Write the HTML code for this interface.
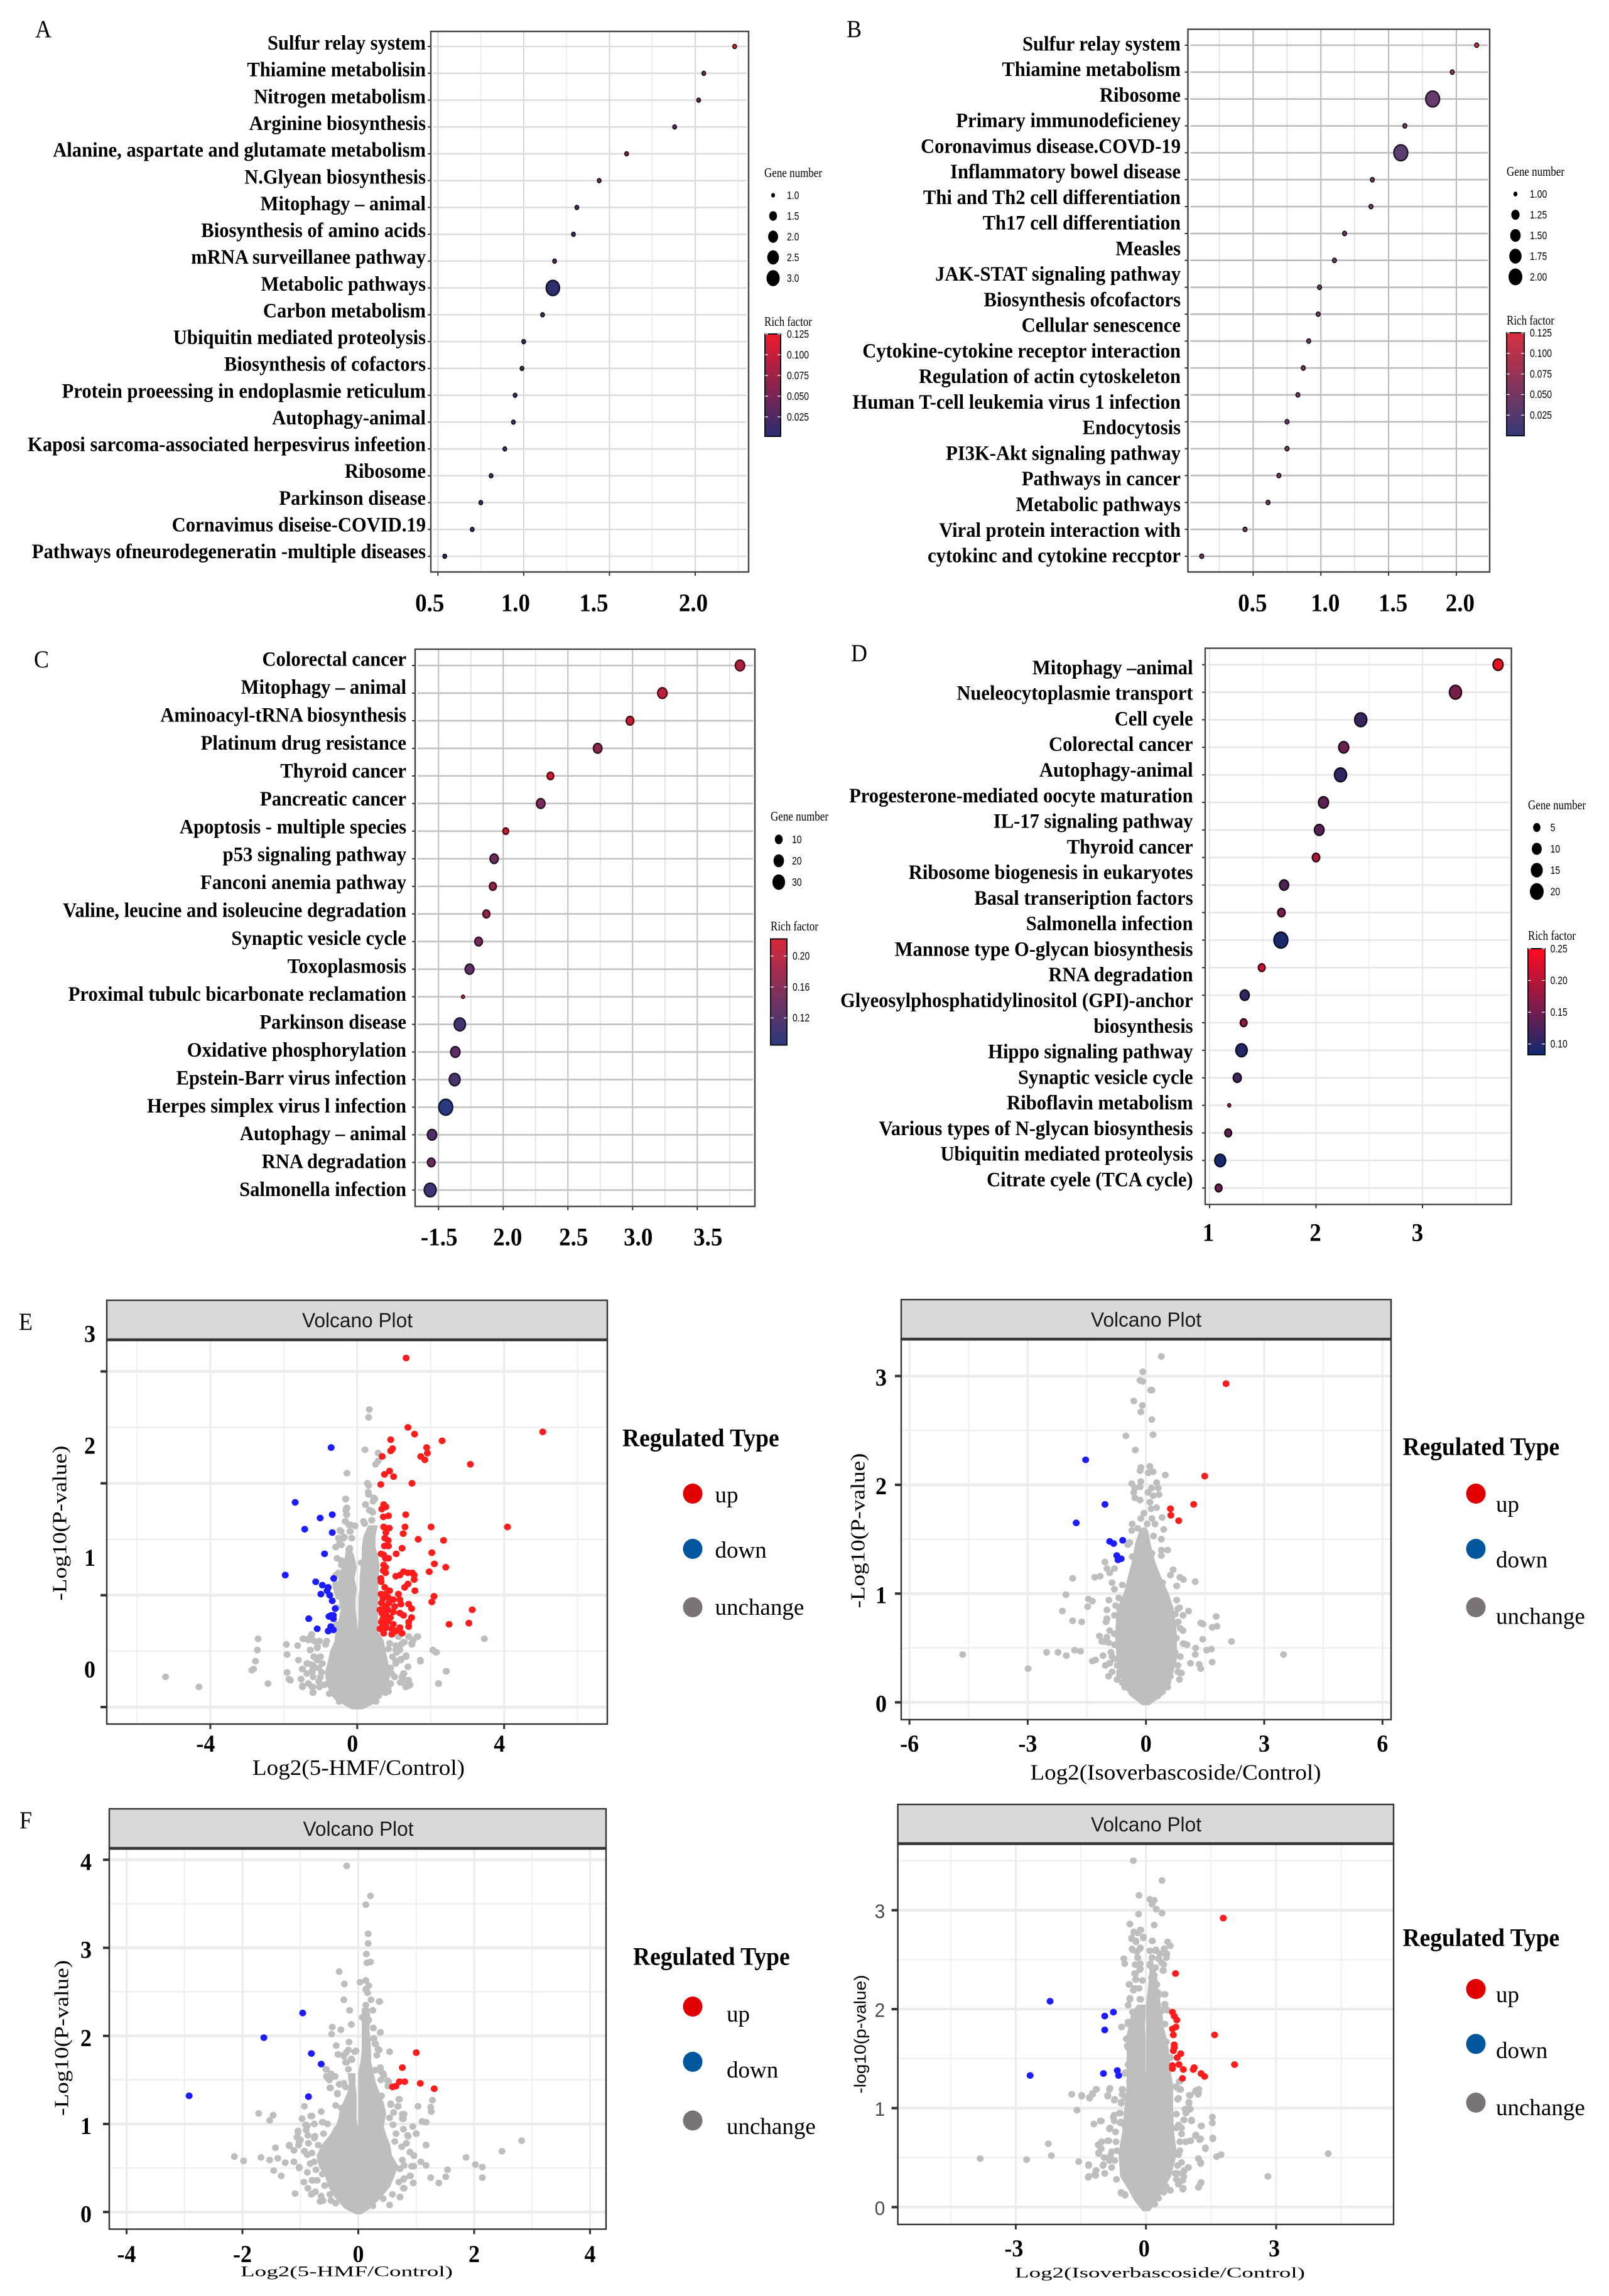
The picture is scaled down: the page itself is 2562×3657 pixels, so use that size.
<!DOCTYPE html>
<html lang="en">
<head>
<meta charset="utf-8">
<title>Enrichment dot plots and volcano plots</title>
<style>
html,body{margin:0;padding:0;background:#fff;}
svg{display:block;}
</style>
</head>
<body>
<svg id="figure" xmlns="http://www.w3.org/2000/svg" width="2562" height="3657" viewBox="0 0 2562 3657">
<defs>
<linearGradient id="grad-a" x1="0" y1="0" x2="0" y2="1"><stop offset="0" stop-color="#ee1a2c"/><stop offset="1" stop-color="#2a2c70"/></linearGradient>
<linearGradient id="grad-b" x1="0" y1="0" x2="0" y2="1"><stop offset="0" stop-color="#d8303f"/><stop offset="1" stop-color="#343a78"/></linearGradient>
<linearGradient id="grad-c" x1="0" y1="0" x2="0" y2="1"><stop offset="0" stop-color="#d8283a"/><stop offset="1" stop-color="#2a3a7c"/></linearGradient>
<linearGradient id="grad-d" x1="0" y1="0" x2="0" y2="1"><stop offset="0" stop-color="#ff0a20"/><stop offset="1" stop-color="#102a6e"/></linearGradient>
</defs>
<rect x="0" y="0" width="2562" height="3657" fill="#ffffff"/>
<g id="panel-a"></g>
<g id="panel-b"></g>
<g id="panel-c"></g>
<g id="panel-d"></g>
<g id="panel-e1"></g>
<g id="panel-e2"></g>
<g id="panel-f1"></g>
<g id="panel-f2"></g>
</svg>
<script>
/* ---------- Panel A data ---------- */
const pathwaysA = ["Sulfur relay system","Thiamine metabolisin","Nitrogen metabolism","Arginine biosynthesis","Alanine, aspartate and glutamate metabolism","N.Glyean biosynthesis","Mitophagy – animal","Biosynthesis of amino acids","mRNA surveillanee pathway","Metabolic pathways","Carbon metabolism","Ubiquitin mediated proteolysis","Biosynthesis of cofactors","Protein proeessing in endoplasmie reticulum","Autophagy-animal","Kaposi sarcoma-associated herpesvirus infeetion","Ribosome","Parkinson disease","Cornavimus diseise-COVID.19","Pathways ofneurodegeneratin -multiple diseases"];
const enrichmentA = [2.23,2.05,2.02,1.88,1.60,1.44,1.31,1.29,1.18,1.17,1.11,1.00,0.99,0.95,0.94,0.89,0.81,0.75,0.70,0.54];
const genesA = [1,1,1,1,1,1,1,1,1,3,1,1,1,1,1,1,1,1,1,1];
const richA = [0.125,0.06,0.05,0.04,0.06,0.05,0.03,0.02,0.04,0.01,0.03,0.02,0.02,0.02,0.02,0.02,0.02,0.02,0.02,0.02];
const xTicksA = [0.5,1.0,1.5,2.0];
const xTickLabelsA = ["0.5","1.0","1.5","2.0"];
const legendGenesA = [1.0,1.5,2.0,2.5,3.0];
const legendGeneLabelsA = ["1.0","1.5","2.0","2.5","3.0"];
const legendRichA = [0.125,0.100,0.075,0.050,0.025];
const legendRichLabelsA = ["0.125","0.100","0.075","0.050","0.025"];

/* ---------- Panel B data ---------- */
const pathwaysB = ["Sulfur relay system","Thiamine metabolism","Ribosome","Primary immunodeficieney","Coronavimus disease.COVD-19","Inflammatory bowel disease","Thi and Th2 cell differentiation","Th17 cell differentiation","Measles","JAK-STAT signaling pathway","Biosynthesis ofcofactors","Cellular senescence","Cytokine-cytokine receptor interaction","Regulation of actin cytoskeleton","Human T-cell leukemia virus 1 infection","Endocytosis","PI3K-Akt signaling pathway","Pathways in cancer","Metabolic pathways","Viral protein interaction with","cytokinc and cytokine reccptor"];
const enrichmentB = [2.15,1.97,1.825,1.62,1.59,1.38,1.37,1.175,1.10,0.99,0.98,0.91,0.87,0.83,0.75,0.75,0.69,0.61,0.44,0.12];
const genesB = [1,1,2,1,2,1,1,1,1,1,1,1,1,1,1,1,1,1,1,1];
const richB = [0.125,0.08,0.03,0.05,0.02,0.04,0.04,0.04,0.04,0.04,0.04,0.04,0.04,0.04,0.04,0.04,0.04,0.04,0.04,0.04];
const xTicksB = [0.5,1.0,1.5,2.0];
const xTickLabelsB = ["0.5","1.0","1.5","2.0"];
const legendGenesB = [1.00,1.25,1.50,1.75,2.00];
const legendGeneLabelsB = ["1.00","1.25","1.50","1.75","2.00"];
const legendRichB = [0.125,0.100,0.075,0.050,0.025];
const legendRichLabelsB = ["0.125","0.100","0.075","0.050","0.025"];

/* ---------- Panel C data ---------- */
const pathwaysC = ["Colorectal cancer","Mitophagy – animal","Aminoacyl-tRNA biosynthesis","Platinum drug resistance","Thyroid cancer","Pancreatic cancer","Apoptosis - multiple species","p53 signaling pathway","Fanconi anemia pathway","Valine, leucine and isoleucine degradation","Synaptic vesicle cycle","Toxoplasmosis","Proximal tubulc bicarbonate reclamation","Parkinson disease","Oxidative phosphorylation","Epstein-Barr virus infection","Herpes simplex virus l infection","Autophagy – animal","RNA degradation","Salmonella infection"];
const enrichmentC = [3.83,3.23,2.98,2.73,2.365,2.29,2.02,1.93,1.92,1.87,1.81,1.74,1.69,1.665,1.63,1.625,1.556,1.45,1.444,1.436];
const genesC = [15,15,9,12,6,12,4,11,7,7,9,13,1,23,15,21,36,15,9,26];
const richC = [0.19,0.20,0.21,0.16,0.22,0.15,0.21,0.14,0.17,0.17,0.15,0.13,0.22,0.11,0.13,0.115,0.09,0.12,0.14,0.105];
const xTicksC = [1.5,2.0,2.5,3.0,3.5];
const xTickLabelsC = ["-1.5","2.0","2.5","3.0","3.5"];
const legendGenesC = [10,20,30];
const legendGeneLabelsC = ["10","20","30"];
const legendRichC = [0.20,0.16,0.12];
const legendRichLabelsC = ["0.20","0.16","0.12"];

/* ---------- Panel D data ---------- */
const pathwaysD = ["Mitophagy –animal","Nueleocytoplasmie transport","Cell cyele","Colorectal cancer","Autophagy-animal","Progesterone-mediated oocyte maturation","IL-17 signaling pathway","Thyroid cancer","Ribosome biogenesis in eukaryotes","Basal transeription factors","Salmonella infection","Mannose type O-glycan biosynthesis","RNA degradation","Glyeosylphosphatidylinositol (GPI)-anchor","biosynthesis","Hippo signaling pathway","Synaptic vesicle cycle","Riboflavin metabolism","Various types of N-glycan biosynthesis","Ubiquitin mediated proteolysis","Citrate cyele (TCA cycle)"];
const enrichmentD = [3.71,3.31,2.42,2.26,2.23,2.07,2.03,2.00,1.70,1.675,1.67,1.49,1.33,1.32,1.30,1.26,1.185,1.175,1.10,1.085];
const genesD = [10,15,15,10,15,10,9,5,8,5,20,4,8,4,13,6,1,4,12,4];
const richD = [0.24,0.16,0.115,0.15,0.105,0.14,0.135,0.20,0.13,0.16,0.09,0.22,0.11,0.18,0.095,0.12,0.20,0.14,0.09,0.15];
const xTicksD = [1,2,3];
const xTickLabelsD = ["1","2","3"];
const legendGenesD = [5,10,15,20];
const legendGeneLabelsD = ["5","10","15","20"];
const legendRichD = [0.25,0.20,0.15,0.10];
const legendRichLabelsD = ["0.25","0.20","0.15","0.10"];

/* ---------- Volcano E left ---------- */
const upE1 = [[1.33,3.12],[1.38,2.50],[1.56,2.44],[0.91,2.39],[2.31,2.38],[5.05,2.46],[0.96,2.31],[0.91,2.29],[1.89,2.32],[1.91,2.27],[0.68,2.24],[1.73,2.24],[1.84,2.21],[3.08,2.17],[0.88,2.11],[0.74,2.08],[0.99,2.06],[1.49,2.00],[0.64,1.99],[0.72,1.81],[0.78,1.79],[0.67,1.77],[0.85,1.71],[0.71,1.70],[1.32,1.72],[0.72,1.61],[0.87,1.60],[1.30,1.61],[2.01,1.61],[4.09,1.61],[0.78,1.56],[1.25,1.55],[0.75,1.51],[0.84,1.49],[1.66,1.50],[2.35,1.49],[0.74,1.44],[0.85,1.44],[1.22,1.42],[1.06,1.37],[2.03,1.38],[0.65,1.37],[0.72,1.36],[0.77,1.33],[0.85,1.33],[2.10,1.28],[0.72,1.27],[0.77,1.25],[2.41,1.25],[0.71,1.22],[0.77,1.20],[1.26,1.21],[1.38,1.20],[1.50,1.20],[1.96,1.21],[1.05,1.17],[1.16,1.18],[1.55,1.18],[0.64,1.15],[0.65,1.12],[1.55,1.14],[1.38,1.10],[1.29,1.07],[0.75,1.07],[1.57,1.04],[0.88,1.04],[0.65,1.01],[0.77,1.01],[1.12,1.01],[0.84,0.98],[1.16,0.96],[2.09,0.99],[0.70,0.97],[0.98,0.96],[2.03,0.94],[1.40,0.92],[1.19,0.92],[0.77,0.90],[1.48,0.88],[3.13,0.87],[0.62,0.87],[0.84,0.87],[0.98,0.85],[1.16,0.84],[1.26,0.82],[1.48,0.80],[0.67,0.84],[0.79,0.82],[0.70,0.79],[0.84,0.77],[2.50,0.74],[3.04,0.75],[1.40,0.76],[0.98,0.74],[0.70,0.73],[0.79,0.71],[1.16,0.71],[1.40,0.72],[0.62,0.70],[0.94,0.70],[1.05,0.68],[1.22,0.66],[0.72,0.66],[0.94,0.65],[0.66,0.93],[0.72,0.85],[0.76,0.77],[0.86,0.93],[0.90,0.80],[1.02,0.90],[0.66,0.76],[0.78,0.74]];
const downE1 = [[-0.71,2.32],[-1.69,1.83],[-0.68,1.72],[-1.01,1.69],[-1.43,1.59],[-0.68,1.56],[-0.89,1.37],[-1.96,1.18],[-0.64,1.15],[-1.13,1.12],[-0.95,1.09],[-0.79,1.07],[-0.82,1.04],[-0.99,1.01],[-0.75,1.00],[-0.68,0.95],[-0.60,0.88],[-0.71,0.82],[-0.65,0.82],[-0.77,0.81],[-0.65,0.79],[-1.32,0.79],[-0.72,0.72],[-1.09,0.70],[-0.79,0.68],[-0.65,0.69]];
const unchangedE1 = [[0.33,2.66],[0.31,2.59],[0.21,2.30],[0.57,2.27],[0.57,2.20],[0.50,2.17],[-0.28,2.09],[0.28,2.00],[0.31,1.98],[0.30,1.92],[-0.31,1.86],[0.45,1.87],[0.43,1.84],[0.23,1.81],[-0.28,1.78],[-0.31,1.76],[0.33,1.76],[0.40,1.75],[-0.28,1.72],[-0.33,1.66],[0.40,1.67],[-0.23,1.63],[-0.06,1.62],[0.20,1.64],[-0.44,1.57],[-0.20,1.57],[-0.51,1.51],[-0.37,1.51],[-0.48,1.46],[-0.58,1.43],[-0.20,1.42],[-0.44,1.31],[-0.37,1.26],[-0.51,1.20],[-0.58,1.07],[-0.51,0.99],[-2.70,0.61],[-1.48,0.61],[-1.25,0.64],[-1.33,0.60],[-1.16,0.59],[-1.93,0.56],[-1.62,0.55],[-1.08,0.54],[-2.72,0.51],[-1.28,0.51],[-1.91,0.47],[-1.60,0.42],[-2.77,0.41],[-1.18,0.45],[-1.36,0.39],[-1.25,0.38],[-1.50,0.34],[-2.87,0.33],[-2.82,0.34],[-1.91,0.31],[-1.22,0.33],[-1.05,0.35],[-1.86,0.25],[-1.82,0.24],[-1.53,0.25],[-1.33,0.21],[-2.43,0.21],[-1.49,0.18],[-1.21,0.18],[-1.21,0.13],[-1.05,0.23],[-5.22,0.27],[-4.31,0.18],[3.46,0.61],[1.63,0.63],[1.40,0.63],[1.12,0.63],[1.48,0.57],[1.26,0.58],[1.12,0.54],[1.05,0.51],[2.06,0.51],[2.14,0.49],[1.33,0.46],[1.19,0.43],[1.72,0.41],[1.05,0.41],[2.43,0.32],[1.26,0.30],[0.91,0.35],[1.33,0.24],[1.40,0.19],[1.19,0.22],[2.21,0.21],[0.84,0.17],[0.77,0.13]];
const unchangedEdgeE1 = [[-1.46,0.61],[-1.32,0.61],[-1.24,0.65],[-1.17,0.59],[-1.03,0.59],[-0.83,0.59],[-0.86,0.56],[-1.09,0.53],[-1.28,0.51],[-1.17,0.45],[-1.00,0.45],[-1.09,0.42],[-0.95,0.39],[-1.37,0.39],[-1.20,0.37],[-1.49,0.34],[-1.22,0.32],[-1.37,0.30],[-0.97,0.31],[-1.53,0.25],[-1.20,0.27],[-1.00,0.27],[-1.33,0.21],[-1.49,0.19],[-1.23,0.18],[-1.20,0.13],[-1.03,0.18],[-0.89,0.20],[-0.76,0.12],[-0.49,0.05],[-0.32,1.86],[-0.29,1.78],[-0.29,1.72],[-0.32,1.66],[-0.18,1.63],[-0.06,1.62],[-0.47,1.58],[-0.19,1.57],[-0.15,1.51],[-0.49,1.50],[-0.35,1.52],[-0.43,1.45],[-0.59,1.43],[-0.23,1.41],[-0.55,1.33],[-0.43,1.27],[-0.58,1.18],[-0.58,1.10],[-0.55,1.03],[-0.55,0.89],[-0.55,0.74],[0.17,1.66],[0.22,1.81],[0.35,1.76],[0.42,1.74],[0.48,1.86],[0.31,1.90],[0.39,1.67],[0.11,1.29],[1.13,0.63],[1.40,0.63],[1.65,0.63],[1.53,0.60],[1.49,0.56],[1.28,0.58],[0.88,0.57],[1.19,0.56],[1.05,0.55],[1.16,0.51],[1.08,0.49],[0.85,0.52],[2.06,0.51],[2.16,0.49],[1.33,0.45],[1.19,0.42],[0.96,0.45],[1.05,0.39],[1.72,0.42],[1.38,0.36],[2.42,0.32],[0.94,0.30],[1.02,0.27],[1.27,0.30],[1.22,0.27],[1.17,0.22],[1.31,0.24],[1.40,0.24],[1.44,0.20],[1.32,0.18],[0.91,0.21],[0.85,0.14],[0.76,0.13],[2.22,0.21],[0.58,0.10],[0.51,0.05]];
const cloudMainE1 = [[-0.015,-0.15,0.14],[0.03,-0.38,0.42],[0.07,-0.60,0.56],[0.125,-0.72,0.71],[0.22,-0.83,0.85],[0.31,-0.86,0.88],[0.41,-0.78,0.82],[0.50,-0.72,0.76],[0.59,-0.60,0.71],[0.67,-0.58,0.56]];
const cloudLeftE1 = [[0.67,-0.58,-0.01],[0.78,-0.49,-0.03],[0.87,-0.43,-0.06],[0.97,-0.49,-0.06],[1.06,-0.52,-0.03],[1.15,-0.49,-0.09],[1.25,-0.40,-0.03],[1.34,-0.32,-0.09],[1.40,-0.29,-0.15]];
const cloudRightE1 = [[0.67,0.02,0.56],[0.78,0.05,0.56],[0.87,0.05,0.54],[0.97,0.05,0.56],[1.06,0.08,0.56],[1.15,0.08,0.56],[1.25,0.11,0.59],[1.34,0.14,0.56],[1.43,0.14,0.48],[1.53,0.19,0.48],[1.62,0.31,0.54]];
const xTicksE1 = [-4,0,4];
const xMinorE1 = [-6,-2,2,6];
const yTicksE1 = [0,1,2,3];
const yMinorE1 = [0.5,1.5,2.5];

/* ---------- Volcano E right ---------- */
const upE2 = [[2.03,2.93],[1.49,2.08],[1.21,1.82],[0.62,1.78],[0.63,1.72],[0.83,1.67]];
const downE2 = [[-1.53,2.23],[-1.04,1.82],[-1.77,1.65],[-0.59,1.49],[-0.92,1.48],[-0.82,1.46],[-0.74,1.35],[-0.63,1.32],[-0.71,1.31]];
const unchangedE2 = [[0.39,3.18],[-0.08,3.04],[-0.15,2.96],[-0.08,2.95],[0.15,2.87],[0.12,2.87],[-0.31,2.77],[-0.09,2.73],[-0.13,2.67],[0.15,2.60],[-0.51,2.45],[0.18,2.46],[-0.27,2.32],[0.10,2.17],[-0.13,2.16],[-0.15,2.13],[0.06,2.11],[0.18,2.12],[0.49,2.09],[-0.13,2.03],[-0.36,2.01],[-0.28,1.97],[0.27,2.02],[0.14,1.97],[0.31,1.97],[-0.15,1.98],[-0.31,1.93],[0.05,1.93],[0.33,1.91],[0.18,1.90],[-0.28,1.88],[-0.15,1.86],[0.10,1.84],[0.27,1.79],[0.13,1.78],[-0.05,1.74],[0.41,1.70],[0.15,1.69],[-0.13,1.69],[0.23,1.64],[-0.35,1.64],[0.03,1.64],[0.45,1.59],[-0.21,1.60],[-0.36,1.58],[-0.05,1.58],[0.19,1.53],[0.39,1.50],[-0.41,1.47],[-0.46,1.45],[0.39,1.40],[0.55,1.40],[0.39,1.35],[-0.35,1.34],[0.15,1.37],[-1.04,1.29],[-0.99,1.23],[-0.80,1.23],[0.69,1.22],[-0.92,1.19],[-1.86,1.14],[-1.30,1.15],[-1.16,1.16],[0.86,1.15],[0.62,1.17],[0.95,1.13],[1.25,1.11],[-0.86,1.10],[-0.60,1.08],[0.78,1.07],[0.42,1.10],[-0.80,1.04],[-2.03,0.99],[-1.46,0.95],[-1.36,0.93],[-0.94,0.94],[-1.48,0.88],[-0.69,0.96],[0.78,0.94],[-0.77,0.89],[-0.99,0.85],[-2.12,0.84],[1.08,0.84],[0.85,0.87],[1.78,0.79],[-1.86,0.75],[-1.63,0.74],[-1.01,0.74],[0.74,0.81],[1.39,0.73],[1.45,0.72],[1.68,0.69],[1.80,0.70],[0.82,0.74],[0.94,0.66],[-0.92,0.66],[-1.18,0.61],[-1.12,0.56],[-0.95,0.55],[1.44,0.58],[2.17,0.56],[0.96,0.54],[1.26,0.50],[1.04,0.53],[1.66,0.49],[1.54,0.48],[-4.65,0.44],[-2.52,0.46],[-2.23,0.46],[-1.81,0.48],[-1.66,0.47],[-2.02,0.43],[3.49,0.44],[-1.09,0.43],[-1.36,0.38],[-1.28,0.39],[-1.03,0.34],[-0.86,0.42],[1.25,0.44],[1.13,0.36],[1.35,0.35],[1.68,0.37],[1.39,0.31],[-2.99,0.31],[-0.95,0.24],[-0.73,0.21],[-0.67,0.28],[0.81,0.28],[0.87,0.27],[0.85,0.21],[-0.54,0.14],[0.55,0.14]];
const unchangedEdgeE2 = [[-0.67,0.86],[-0.80,0.80],[-0.99,0.77],[-0.67,0.71],[-0.80,0.63],[-0.99,0.60],[-1.05,0.56],[-0.80,0.53],[-0.89,0.46],[-0.80,0.40],[-0.73,0.34],[-0.92,0.36],[-0.86,0.28],[-0.67,0.25],[-0.60,0.18],[-0.73,0.21],[0.81,0.86],[0.94,0.80],[0.74,0.72],[0.87,0.68],[0.62,0.60],[0.77,0.59],[0.94,0.54],[0.74,0.46],[0.87,0.42],[0.62,0.37],[0.81,0.34],[0.90,0.27],[0.62,0.24],[0.55,0.18],[0.42,0.10],[0.30,0.06]];
const cloudMainE2 = [[-0.02,-0.09,0.08],[0.07,-0.41,0.42],[0.19,-0.60,0.62],[0.40,-0.73,0.77],[0.62,-0.77,0.77],[0.86,-0.72,0.69],[1.01,-0.54,0.55],[1.16,-0.44,0.36],[1.28,-0.35,0.23],[1.46,-0.26,0.10],[1.58,-0.15,0.04]];
const xTicksE2 = [-6,-3,0,3,6];
const xMinorE2 = [-4.5,-1.5,1.5,4.5];
const yTicksE2 = [0,1,2,3];
const yMinorE2 = [0.5,1.5,2.5];

/* ---------- Volcano F left ---------- */
const upF1 = [[1.00,1.81],[0.76,1.64],[1.07,1.46],[0.71,1.48],[0.80,1.48],[0.59,1.42],[0.65,1.43],[1.31,1.40]];
const downF1 = [[-0.96,2.26],[-1.63,1.98],[-0.81,1.80],[-0.64,1.68],[-0.86,1.31],[-2.92,1.32]];
const unchangedF1 = [[-0.20,3.93],[0.21,3.59],[0.13,3.49],[0.17,3.16],[0.17,3.05],[0.14,2.93],[0.15,2.83],[0.21,2.84],[-0.33,2.73],[0.13,2.63],[0.03,2.61],[-0.24,2.59],[0.18,2.57],[0.13,2.53],[0.16,2.49],[-0.25,2.41],[0.22,2.41],[0.37,2.39],[0.13,2.35],[-0.15,2.29],[0.25,2.29],[0.07,2.21],[0.18,2.18],[-0.12,2.13],[-0.45,2.10],[-0.30,2.07],[-0.46,2.02],[0.38,2.04],[-0.16,1.93],[-0.38,1.89],[0.26,1.97],[0.29,1.91],[0.34,1.85],[0.54,1.82],[-0.04,1.83],[-0.21,1.81],[-0.35,1.79],[-0.25,1.77],[-0.22,1.70],[-0.12,1.74],[0.38,1.64],[-0.56,1.62],[0.29,1.61],[0.40,1.59],[0.44,1.55],[-0.54,1.53],[-0.43,1.54],[0.51,1.49],[-0.32,1.45],[-0.25,1.46],[-0.49,1.41],[0.51,1.43],[-0.36,1.35],[0.70,1.28],[0.56,1.23],[0.69,1.20],[1.03,1.20],[1.28,1.27],[1.25,1.19],[1.26,1.14],[-0.93,1.20],[-0.64,1.14],[-0.82,1.09],[-1.72,1.12],[-1.47,1.10],[-1.53,1.04],[-0.97,1.06],[0.76,1.11],[0.78,1.06],[1.10,1.03],[1.17,1.02],[-0.76,1.00],[-0.61,1.02],[0.94,0.97],[-0.88,0.98],[-1.04,0.91],[1.00,0.89],[0.85,0.87],[-1.06,0.85],[-0.75,0.86],[2.82,0.81],[-1.02,0.80],[0.83,0.78],[1.17,0.76],[-1.19,0.75],[-1.43,0.73],[-1.11,0.70],[-0.93,0.69],[2.48,0.69],[0.89,0.68],[0.96,0.64],[-2.14,0.63],[-1.68,0.62],[1.86,0.62],[-1.98,0.58],[-1.53,0.59],[-1.39,0.61],[-1.26,0.56],[-1.11,0.57],[1.08,0.57],[0.92,0.52],[1.17,0.53],[2.02,0.54],[2.14,0.51],[1.54,0.48],[-1.46,0.47],[-1.33,0.41],[-1.02,0.51],[0.89,0.41],[1.25,0.39],[1.51,0.40],[2.14,0.39],[1.39,0.33],[0.95,0.33],[0.78,0.37],[-0.94,0.34],[-0.79,0.36],[-1.09,0.21],[-0.79,0.21],[0.72,0.17],[0.54,0.08],[0.78,0.27],[-0.61,0.13]];
const unchangedEdgeF1 = [[-0.36,1.34],[-0.39,1.21],[-0.29,1.18],[-0.80,1.09],[-0.62,1.02],[-0.53,1.00],[-0.76,1.00],[-0.91,0.99],[-0.90,0.93],[-1.04,0.92],[-1.05,0.85],[-0.87,0.87],[-0.76,0.84],[-0.60,0.89],[-1.00,0.82],[-1.03,0.76],[-0.86,0.78],[-0.69,0.76],[-1.19,0.76],[-1.11,0.70],[-0.93,0.69],[-0.88,0.65],[-0.80,0.67],[-1.11,0.57],[-1.02,0.50],[-0.83,0.55],[-0.76,0.57],[-0.88,0.45],[-0.73,0.48],[-0.62,0.43],[-0.94,0.34],[-0.80,0.36],[-0.87,0.27],[-0.71,0.36],[-0.58,0.30],[-0.81,0.20],[-0.74,0.23],[-0.64,0.18],[-0.66,0.12],[-0.49,0.20],[-0.47,0.13],[-0.39,0.10],[-0.17,1.84],[-0.06,1.82],[-0.35,1.79],[-0.25,1.78],[-0.20,1.70],[-0.11,1.73],[-0.17,1.62],[-0.55,1.62],[-0.47,1.57],[-0.55,1.54],[-0.40,1.54],[-0.50,1.50],[-0.48,1.41],[-0.33,1.45],[-0.22,1.42],[0.32,1.78],[0.36,1.84],[0.30,1.91],[0.27,1.97],[0.38,2.04],[0.26,2.09],[0.36,2.39],[0.38,1.64],[0.43,1.57],[0.52,1.48],[0.57,1.43],[0.39,1.50],[0.40,1.32],[0.56,1.22],[0.68,1.20],[0.71,1.28],[0.61,1.13],[0.79,1.11],[0.76,1.06],[0.54,1.07],[0.60,0.99],[0.78,0.94],[0.65,0.89],[0.86,0.86],[1.00,0.89],[0.63,0.80],[0.83,0.78],[0.75,0.74],[1.17,0.76],[0.89,0.68],[0.96,0.64],[0.76,0.59],[0.79,0.53],[0.96,0.52],[0.72,0.49],[0.79,0.38],[0.90,0.41],[0.70,0.34],[0.79,0.27],[0.95,0.33],[0.72,0.17],[0.59,0.20],[0.43,0.15],[0.25,0.07]];
const cloudMainF1 = [[-0.02,-0.04,0.05],[0.05,-0.24,0.21],[0.17,-0.40,0.39],[0.29,-0.51,0.54],[0.40,-0.56,0.61],[0.52,-0.67,0.68],[0.64,-0.71,0.57],[0.76,-0.62,0.54],[0.88,-0.47,0.47],[0.97,-0.40,0.43]];
const cloudLeftF1 = [[0.97,-0.38,-0.02],[1.07,-0.33,-0.04],[1.16,-0.31,-0.04],[1.26,-0.24,-0.04],[1.35,-0.18,-0.04],[1.45,-0.15,-0.06],[1.57,-0.17,-0.06]];
const cloudRightF1 = [[0.97,0.01,0.43],[1.12,0.01,0.47],[1.24,0.01,0.43],[1.35,0.01,0.36],[1.47,0.01,0.29],[1.59,0.01,0.25],[1.71,0.05,0.21],[1.83,0.07,0.21],[1.95,0.07,0.20],[2.07,0.07,0.18],[2.19,0.07,0.20],[2.31,0.07,0.18]];
const xTicksF1 = [-4,-2,0,2,4];
const xMinorF1 = [-3,-1,1,3];
const yTicksF1 = [0,1,2,3,4];
const yMinorF1 = [0.5,1.5,2.5,3.5];

/* ---------- Volcano F right ---------- */
const upF2 = [[1.78,2.92],[0.68,2.36],[0.61,1.97],[0.65,1.93],[0.71,1.89],[0.69,1.82],[0.61,1.80],[0.63,1.74],[1.58,1.74],[0.65,1.64],[0.65,1.61],[0.63,1.58],[0.80,1.55],[0.72,1.51],[2.04,1.44],[0.61,1.43],[0.76,1.44],[0.61,1.40],[0.86,1.39],[1.11,1.41],[1.09,1.39],[1.27,1.35],[1.35,1.32],[0.84,1.30]];
const downF2 = [[-2.21,2.08],[-0.75,1.97],[-0.95,1.93],[-0.95,1.79],[-0.66,1.38],[-0.98,1.35],[-0.63,1.33],[-2.67,1.33]];
const unchangedF2 = [[-0.29,3.50],[0.37,3.30],[-0.16,3.15],[0.09,3.11],[0.19,3.10],[0.14,3.06],[0.24,3.01],[0.37,2.97],[-0.17,2.96],[-0.37,2.86],[0.19,2.85],[-0.13,2.80],[-0.28,2.78],[-0.19,2.77],[-0.33,2.71],[-0.06,2.72],[0.14,2.69],[0.50,2.68],[-0.23,2.68],[0.56,2.64],[0.42,2.61],[-0.31,2.60],[-0.14,2.61],[0.09,2.59],[0.23,2.60],[0.33,2.56],[0.48,2.56],[-0.51,2.51],[-0.19,2.52],[0.47,2.52],[0.14,2.52],[-0.49,2.46],[-0.24,2.45],[0.09,2.44],[0.36,2.47],[-0.14,2.40],[0.40,2.39],[-0.26,2.36],[0.19,2.34],[-0.23,2.30],[-0.38,2.25],[-0.26,2.21],[0.19,2.26],[0.15,2.20],[0.42,2.15],[0.27,2.13],[-0.37,2.10],[-0.14,2.10],[0.12,2.07],[0.43,2.05],[-0.28,1.97],[0.47,2.00],[-0.14,1.94],[-0.41,1.87],[-0.56,1.82],[0.44,1.85],[0.33,1.74],[-0.45,1.70],[0.47,1.67],[-0.41,1.61],[-0.37,1.51],[-0.49,1.35],[0.77,1.27],[0.70,1.22],[-1.71,1.14],[-1.48,1.12],[-1.30,1.10],[-1.23,1.14],[-1.15,1.19],[-0.84,1.19],[-0.88,1.12],[-0.72,1.09],[-0.55,1.19],[0.77,1.19],[1.14,1.17],[1.22,1.19],[1.20,1.14],[1.00,1.13],[0.73,1.09],[0.99,1.05],[-0.57,1.05],[-1.59,0.98],[0.91,0.99],[0.97,0.98],[-0.61,0.95],[0.70,0.94],[1.53,0.91],[1.53,0.85],[0.88,0.88],[1.05,0.87],[-1.05,0.87],[-1.20,0.84],[-0.75,0.91],[1.27,0.82],[-0.58,0.86],[-0.84,0.79],[0.79,0.81],[1.14,0.72],[1.26,0.69],[1.54,0.69],[1.02,0.67],[0.91,0.66],[-2.25,0.64],[-1.02,0.66],[-1.09,0.63],[-0.86,0.67],[1.37,0.59],[-1.09,0.55],[-1.04,0.59],[-2.18,0.52],[1.73,0.53],[1.63,0.51],[1.21,0.49],[1.26,0.44],[4.20,0.54],[-3.82,0.49],[-2.75,0.48],[-1.55,0.46],[-1.32,0.42],[-0.99,0.42],[0.97,0.40],[0.73,0.42],[-1.15,0.37],[-0.95,0.34],[-1.18,0.33],[-1.33,0.30],[2.81,0.31],[0.88,0.37],[0.73,0.34],[0.85,0.27],[1.26,0.24],[1.21,0.20],[0.85,0.18],[0.56,0.17],[-0.57,0.14],[-0.49,0.13]];
const unchangedEdgeF2 = [[-0.28,2.78],[-0.12,2.80],[-0.33,2.72],[-0.06,2.73],[-0.23,2.69],[-0.32,2.61],[-0.13,2.62],[-0.21,2.58],[-0.19,2.52],[-0.25,2.45],[-0.13,2.46],[-0.13,2.41],[-0.24,2.36],[-0.24,2.30],[-0.08,2.29],[-0.39,2.25],[-0.29,2.19],[-0.16,2.21],[-0.37,2.11],[-0.12,2.10],[-0.41,2.04],[-0.31,1.97],[0.15,2.69],[0.09,2.59],[0.22,2.59],[0.32,2.56],[0.42,2.61],[0.47,2.55],[0.29,2.51],[0.41,2.45],[0.10,2.46],[0.22,2.42],[0.39,2.39],[0.13,2.32],[0.25,2.25],[0.44,2.15],[0.27,2.17],[0.44,2.05],[0.49,1.99],[0.39,1.99],[-0.56,1.82],[-0.41,1.85],[-0.45,1.70],[-0.43,1.63],[-0.41,1.44],[-0.46,1.36],[-0.38,1.27],[-0.54,1.19],[-1.14,1.19],[-0.83,1.20],[-1.23,1.15],[-1.48,1.13],[-1.30,1.11],[-0.88,1.13],[-0.73,1.08],[-0.57,1.06],[-0.55,1.14],[-0.48,1.11],[-1.59,0.98],[-0.73,0.93],[-0.59,0.95],[-1.20,0.84],[-1.03,0.87],[-0.73,0.87],[-0.59,0.85],[-0.83,0.80],[-0.70,0.76],[-0.48,0.82],[-0.88,0.67],[-0.69,0.66],[-1.02,0.66],[-1.10,0.63],[-1.03,0.59],[-0.79,0.56],[-0.67,0.57],[-1.09,0.54],[-0.96,0.50],[-0.82,0.52],[-0.72,0.47],[-0.84,0.47],[-1.32,0.43],[-0.98,0.43],[-0.79,0.40],[-1.15,0.37],[-0.95,0.34],[-1.16,0.32],[-1.32,0.31],[-0.68,0.28],[-0.57,0.15],[-0.48,0.12],[0.56,1.51],[0.78,1.27],[0.70,1.21],[0.80,1.19],[1.02,1.13],[1.16,1.18],[1.21,1.15],[0.75,1.10],[0.99,1.06],[0.90,0.99],[1.02,0.99],[0.92,0.95],[0.70,0.94],[0.87,0.88],[1.05,0.88],[1.28,0.82],[0.75,0.83],[0.82,0.80],[0.70,0.80],[0.82,0.74],[1.15,0.73],[1.54,0.70],[1.24,0.68],[1.03,0.67],[0.92,0.66],[0.78,0.66],[1.37,0.60],[0.78,0.57],[0.75,0.53],[1.21,0.49],[1.26,0.45],[0.82,0.45],[0.98,0.40],[0.87,0.36],[0.67,0.34],[0.87,0.31],[0.70,0.28],[0.75,0.23],[1.27,0.25],[1.21,0.20],[0.86,0.19],[0.56,0.17],[0.46,0.21],[0.41,0.15],[0.29,0.09],[0.20,0.03]];
const cloudMainF2 = [[-0.035,-0.07,0.08],[0.07,-0.26,0.25],[0.19,-0.41,0.41],[0.31,-0.58,0.56],[0.54,-0.62,0.70],[0.77,-0.53,0.63],[1.01,-0.48,0.61],[1.24,-0.43,0.61],[1.36,-0.43,0.56]];
const cloudLeftF2 = [[1.36,-0.43,-0.02],[1.60,-0.43,-0.02],[1.71,-0.45,-0.02],[1.83,-0.38,-0.04],[1.95,-0.33,-0.02],[2.04,-0.19,-0.02]];
const cloudRightF2 = [[1.36,0.02,0.56],[1.60,0.02,0.51],[1.71,0.02,0.46],[1.83,0.02,0.39],[1.95,0.02,0.37],[2.07,0.02,0.32],[2.18,0.05,0.27],[2.30,0.08,0.25],[2.42,0.10,0.20]];
const xTicksF2 = [-3,0,3];
const xMinorF2 = [-4.5,-1.5,1.5,4.5];
const yTicksF2 = [0,1,2,3];
const yMinorF2 = [0.5,1.5,2.5,3.5];

/* ---------- Shared legend text ---------- */
const regulationTypes = ["up","down","unchange"];
const regulationColors = ["#e00000","#00569c","#7b7474"];

/* ---------- Helpers ---------- */
const SVGNS = "http://www.w3.org/2000/svg";
const SERIF = '"Liberation Serif", serif';
const SANS = '"Liberation Sans", sans-serif';

function mk(tag, attrs, parent) {
  const el = document.createElementNS(SVGNS, tag);
  for (const k in attrs) el.setAttribute(k, attrs[k]);
  parent.appendChild(el);
  return el;
}
function linear(d0, d1, r0, r1) {
  return function (v) { return r0 + (v - d0) * (r1 - r0) / (d1 - d0); };
}
function txt(parent, str, x, cy, o, name) {
  const sy = o.sy || 1;
  const size = o.size;
  const el = document.createElementNS(SVGNS, "text");
  el.textContent = str;
  el.setAttribute("font-family", o.family || SERIF);
  el.setAttribute("font-size", size);
  if (o.weight) el.setAttribute("font-weight", o.weight);
  el.setAttribute("fill", o.fill || "#000");
  el.setAttribute("text-anchor", o.anchor || "start");
  if (o.len) {
    el.setAttribute("textLength", o.len);
    el.setAttribute("lengthAdjust", "spacingAndGlyphs");
  }
  const off = 0.33 * size * sy;
  if (o.rotate) {
    el.setAttribute("transform", "translate(" + (x + off) + "," + cy + ") rotate(-90)");
  } else {
    el.setAttribute("transform", "translate(" + x + "," + (cy + off) + ") scale(1," + sy + ")");
  }
  
  
  parent.appendChild(el);
  return el;
}
function hexToRgb(h) {
  return [parseInt(h.substr(1, 2), 16), parseInt(h.substr(3, 2), 16), parseInt(h.substr(5, 2), 16)];
}
function mixColor(lo, hi, t) {
  const a = hexToRgb(lo), b = hexToRgb(hi);
  t = Math.max(0, Math.min(1, t));
  return [0, 1, 2].map(function (i) { return Math.round(a[i] + (b[i] - a[i]) * t); });
}
function rgbStr(c, f) {
  return "rgb(" + c.map(function (v) { return Math.round(v * f); }).join(",") + ")";
}

/* ---------- Dot plot ---------- */
function drawDotPlot(p) {
  const g = document.getElementById(p.id);
  const x = linear(p.xDomain[0], p.xDomain[1], p.xRange[0], p.xRange[1]);
  const n = p.values.length;
  const rowY = linear(0, n - 1, p.rowFirst, p.rowLast);
  const R = p.rect;

  txt(g, p.letter, p.letterX, p.letterY, { size: 36, sy: 1.1 }, "panel-letter");

  const step = x(p.xTicks[1]) - x(p.xTicks[0]);
  const minorLines = [x(p.xTicks[0]) - step / 2];
  p.xTicks.forEach(function (t) { minorLines.push(x(t) + step / 2); });
  minorLines.forEach(function (px) {
    if (px <= R.l || px >= R.r) return;
    const line = mk("line", { x1: px, x2: px, y1: R.t, y2: R.b, stroke: p.gridMinor, "stroke-width": 1.5 }, g);
    
    
  });
  p.xTicks.forEach(function (t, i) {
    const major = mk("line", { x1: x(t), x2: x(t), y1: R.t, y2: R.b, stroke: p.gridMajor, "stroke-width": 2 }, g);
    
    
    const tick = mk("line", { x1: x(t), x2: x(t), y1: R.b, y2: R.b + 6, stroke: "#333", "stroke-width": 2 }, g);
    
    
    txt(g, p.xTickLabels[i], x(t) + p.xLabelNudge[i], p.xLabelY, { size: 37, weight: "bold", anchor: "middle", sy: 1.1 }, "x-tick-label");
  });
  p.values.forEach(function (v, i) {
    const row = mk("line", { x1: R.l + 4, x2: R.r - 3, y1: rowY(i), y2: rowY(i), stroke: p.rowColor, "stroke-width": 2.6 }, g);
    
    
    const tick = mk("line", { x1: R.l - 5, x2: R.l, y1: rowY(i), y2: rowY(i), stroke: "#333", "stroke-width": 2 }, g);
    
    
  });
  const labelY = linear(0, p.categories.length - 1, p.labelFirst, p.labelLast);
  p.categories.forEach(function (c, i) {
    txt(g, c, p.labelRight, labelY(i), { size: p.labelSize, weight: "bold", anchor: "end", sy: 1.08 }, "pathway-label");
  });

  function radius(gene) {
    const t = Math.max(0, (gene - p.geneMin) / (p.geneMax - p.geneMin));
    return p.rMin + (p.rMax - p.rMin) * Math.pow(t, 0.6);
  }
  const richT = linear(p.barMin, p.barMax, 0, 1);
  p.values.forEach(function (v, i) {
    const rx = radius(p.genes[i]);
    const col = mixColor(p.lowColor, p.highColor, richT(p.rich[i]));
    const dot = mk("ellipse", {
      cx: x(v), cy: rowY(i), rx: rx, ry: rx * 1.15,
      fill: rgbStr(col, 1), stroke: rx < 4 ? "#0a0a0a" : rgbStr(col, p.strokeFactor), "stroke-width": rx < 4 ? 1.6 : 2.4
    }, g);
    
    
  });

  const border = mk("rect", { x: R.l, y: R.t, width: R.r - R.l, height: R.b - R.t, fill: "none", stroke: "#444", "stroke-width": 2.4 }, g);
  
  

  /* size legend */
  const L = p.legend;
  txt(g, "Gene number", L.titleX, L.geneTitleY, { size: 17, sy: 1.25 }, "gene-number-legend-title");
  const keyY = linear(0, p.legendGenes.length - 1, L.keyFirst, L.keyLast);
  p.legendGenes.forEach(function (gn, i) {
    const rx = radius(gn);
    const key = mk("ellipse", { cx: L.keyX, cy: keyY(i), rx: rx, ry: rx * 1.22, fill: "#000" }, g);
    
    
    txt(g, p.legendGeneLabels[i], L.labelX, keyY(i), { size: 14, family: SANS, sy: 1.25 }, "gene-number-legend-label");
  });

  /* colour legend */
  txt(g, "Rich factor", L.titleX, L.richTitleY, { size: 17, sy: 1.25 }, "rich-factor-legend-title");
  const bar = mk("rect", { x: L.barL, y: L.barT, width: L.barR - L.barL, height: L.barB - L.barT, fill: "url(#" + p.gradient + ")", stroke: "#0d0d1a", "stroke-width": 2 }, g);
  
  
  const barY = linear(p.barMax, p.barMin, L.barT, L.barB);
  p.legendRich.forEach(function (v, i) {
    const y = barY(v);
    const t1 = mk("line", { x1: L.barL, x2: L.barL + 5, y1: y, y2: y, stroke: "#fff", "stroke-width": 1.2 }, g);
    
    
    const t2 = mk("line", { x1: L.barR - 5, x2: L.barR, y1: y, y2: y, stroke: "#fff", "stroke-width": 1.2 }, g);
    
    
    txt(g, p.legendRichLabels[i], L.labelX2, y, { size: 14, family: SANS, sy: 1.25 }, "rich-factor-legend-label");
  });
}

/* ---------- Volcano ---------- */
function drawVolcano(p) {
  const g = document.getElementById(p.id);
  const R = p.rect;
  const x = linear(p.xDomain[0], p.xDomain[1], p.xRange[0], p.xRange[1]);
  const y = linear(p.yDomain[0], p.yDomain[1], p.yRange[0], p.yRange[1]);

  if (p.letter) txt(g, p.letter, p.letterX, p.letterY, { size: 36, sy: 1.1 }, "panel-letter");

  const panelBg = mk("rect", { x: R.l, y: R.t, width: R.r - R.l, height: R.b - R.t, fill: "#fff" }, g);
  
  

  p.yMinor.forEach(function (v) {
    const l = mk("line", { x1: R.l, x2: R.r, y1: y(v), y2: y(v), stroke: "#efefef", "stroke-width": 2.4 }, g);
    
    
  });
  p.xMinor.forEach(function (v) {
    const l = mk("line", { x1: x(v), x2: x(v), y1: R.t, y2: R.b, stroke: "#efefef", "stroke-width": 1.8 }, g);
    
    
  });
  p.yTicks.forEach(function (v) {
    const l = mk("line", { x1: R.l, x2: R.r, y1: y(v), y2: y(v), stroke: "#ececec", "stroke-width": 4.5 }, g);
    
    
  });
  p.xTicks.forEach(function (v) {
    const l = mk("line", { x1: x(v), x2: x(v), y1: R.t, y2: R.b, stroke: "#ececec", "stroke-width": 3 }, g);
    
    
  });

  p.clouds.forEach(function (cloud) {
    let d = "";
    cloud.forEach(function (r, i) { d += (i ? "L" : "M") + x(r[1]) + " " + y(r[0]) + " "; });
    cloud.slice().reverse().forEach(function (r) { d += "L" + x(r[2]) + " " + y(r[0]) + " "; });
    const path = mk("path", { d: d + "Z", fill: "#bebebe", stroke: "#bebebe", "stroke-width": 2, "stroke-linejoin": "round" }, g);
    
    
  });
  p.unchanged.forEach(function (d) {
    const c = mk("ellipse", { cx: x(d[0]), cy: y(d[1]), rx: 5.5, ry: 5.3, fill: "#bebebe" }, g);
    
    
  });
  p.down.forEach(function (d) {
    const c = mk("ellipse", { cx: x(d[0]), cy: y(d[1]), rx: 5.5, ry: 5.3, fill: "#1c1cff" }, g);
    
    
  });
  p.up.forEach(function (d) {
    const c = mk("ellipse", { cx: x(d[0]), cy: y(d[1]), rx: 5.5, ry: 5.3, fill: "#ff1c1c" }, g);
    
    
  });

  const border = mk("rect", { x: R.l, y: R.t, width: R.r - R.l, height: R.b - R.t, fill: "none", stroke: "#333", "stroke-width": 2.4 }, g);
  
  

  const S = p.strip;
  const strip = mk("rect", { x: R.l, y: S.t, width: R.r - R.l, height: S.b - S.t, fill: "#d9d9d9", stroke: "#333", "stroke-width": 2.4 }, g);
  
  
  const stripLine = mk("line", { x1: R.l, x2: R.r, y1: S.b, y2: S.b, stroke: "#333", "stroke-width": 4.5 }, g);
  
  
  txt(g, "Volcano Plot", S.cx, (S.t + S.b) / 2 + 1, { size: 30, family: SANS, anchor: "middle", len: 176, fill: "#1a1a1a", sy: 1.08 }, "strip-title");

  p.yTicks.forEach(function (v) {
    const t = mk("line", { x1: R.l - 10, x2: R.l, y1: y(v), y2: y(v), stroke: "#333", "stroke-width": 4 }, g);
    
    
    const opts = p.yLabelGrey ? { size: 30, family: SANS, anchor: "middle", fill: "#4d4d4d", sy: 1.05 } : { size: 36, weight: "bold", anchor: "middle", sy: 1.1 };
    txt(g, String(v), p.yLabelX, y(v) + p.yLabelNudge, opts, "y-tick-label");
  });
  p.xTicks.forEach(function (v) {
    const t = mk("line", { x1: x(v), x2: x(v), y1: R.b, y2: R.b + 8, stroke: "#333", "stroke-width": 3 }, g);
    
    
    txt(g, String(v), x(v) + p.xLabelNudge, p.xLabelY, { size: 36, weight: "bold", anchor: "middle", sy: 1.1 }, "x-tick-label");
  });

  txt(g, p.xTitle, p.xTitleX, p.xTitleY, { size: p.xTitleSize, anchor: "middle", len: p.xTitleLen }, "x-axis-title");
  txt(g, p.yTitle, p.yTitleX, p.yTitleY, { size: p.yTitleSize, anchor: "middle", len: p.yTitleLen, rotate: true, family: p.yTitleSans ? SANS : SERIF }, "y-axis-title");

  const L = p.legend;
  txt(g, "Regulated Type", L.titleX, L.titleY, { size: 37.5, weight: "bold", sy: 1.08 }, "legend-title");
  regulationTypes.forEach(function (name, i) {
    const key = mk("ellipse", { cx: L.keyX, cy: L.keyY[i], rx: 15.5, ry: 16, fill: regulationColors[i] }, g);
    
    
    txt(g, name, L.textX, L.textY[i], { size: 37 }, "legend-label");
  });
}

/* ---------- Render ---------- */
drawDotPlot({
  id: "panel-a", letter: "A", letterX: 56, letterY: 46,
  categories: pathwaysA, values: enrichmentA, genes: genesA, rich: richA,
  xTicks: xTicksA, xTickLabels: xTickLabelsA, xLabelNudge: [-13, -13, -25, -3], xLabelY: 960,
  xDomain: [0.5, 2.0], xRange: [697.3, 1107],
  rect: { l: 686, r: 1192, t: 50, b: 911 },
  rowFirst: 74, rowLast: 886, labelFirst: 68.2, labelLast: 878.2, labelRight: 678, labelSize: 30.6,
  gridMajor: "#d8d8d8", gridMinor: "#ebebeb", rowColor: "#dddddd",
  geneMin: 1, geneMax: 3, rMin: 3, rMax: 10.5,
  barMin: 0.0015, barMax: 0.125, lowColor: "#1f2f72", highColor: "#e81a2c", strokeFactor: 0.35, gradient: "grad-a",
  legendGenes: legendGenesA, legendGeneLabels: legendGeneLabelsA, legendRich: legendRichA, legendRichLabels: legendRichLabelsA,
  legend: { titleX: 1217, geneTitleY: 275, keyX: 1231, keyFirst: 311, keyLast: 443, labelX: 1253, richTitleY: 512, barL: 1218, barR: 1243, barT: 532, barB: 695, labelX2: 1253 }
});
drawDotPlot({
  id: "panel-b", letter: "B", letterX: 1348, letterY: 46,
  categories: pathwaysB, values: enrichmentB, genes: genesB, rich: richB,
  xTicks: xTicksB, xTickLabels: xTickLabelsB, xLabelNudge: [-1, 7, 7, 6], xLabelY: 960,
  xDomain: [0.5, 2.0], xRange: [1995.4, 2318.9],
  rect: { l: 1891.5, r: 2372, t: 46.6, b: 911 },
  rowFirst: 72, rowLast: 886, labelFirst: 69.5, labelLast: 884.6, labelRight: 1880, labelSize: 30.6,
  gridMajor: "#b8b8b8", gridMinor: "#dcdcdc", rowColor: "#bdbdbd",
  geneMin: 1, geneMax: 2, rMin: 3.2, rMax: 11,
  barMin: 0.0, barMax: 0.125, lowColor: "#443f7c", highColor: "#d8303f", strokeFactor: 0.35, gradient: "grad-b",
  legendGenes: legendGenesB, legendGeneLabels: legendGeneLabelsB, legendRich: legendRichB, legendRichLabels: legendRichLabelsB,
  legend: { titleX: 2399, geneTitleY: 273, keyX: 2413, keyFirst: 309, keyLast: 441, labelX: 2436, richTitleY: 510, barL: 2399, barR: 2427, barT: 530, barB: 694, labelX2: 2436 }
});
drawDotPlot({
  id: "panel-c", letter: "C", letterX: 54, letterY: 1050,
  categories: pathwaysC, values: enrichmentC, genes: genesC, rich: richC,
  xTicks: xTicksC, xTickLabels: xTickLabelsC, xLabelNudge: [1, 7, 9, 9, 17], xLabelY: 1970,
  xDomain: [1.5, 3.5], xRange: [698.2, 1110.3],
  rect: { l: 661, r: 1202, t: 1034, b: 1921.6 },
  rowFirst: 1060, rowLast: 1895.4, labelFirst: 1049.7, labelLast: 1894.2, labelRight: 647, labelSize: 30.6,
  gridMajor: "#c0c0c0", gridMinor: "#e0e0e0", rowColor: "#c2c2c2",
  geneMin: 1, geneMax: 36, rMin: 2.5, rMax: 11,
  barMin: 0.085, barMax: 0.222, lowColor: "#223a80", highColor: "#d81a2c", strokeFactor: 0.4, gradient: "grad-c",
  legendGenes: legendGenesC, legendGeneLabels: legendGeneLabelsC, legendRich: legendRichC, legendRichLabels: legendRichLabelsC,
  legend: { titleX: 1227, geneTitleY: 1300, keyX: 1240, keyFirst: 1337, keyLast: 1405, labelX: 1261, richTitleY: 1475, barL: 1227, barR: 1253, barT: 1495.5, barB: 1664.5, labelX2: 1262 }
});
drawDotPlot({
  id: "panel-d", letter: "D", letterX: 1355, letterY: 1040,
  categories: pathwaysD, values: enrichmentD, genes: genesD, rich: richD,
  xTicks: xTicksD, xTickLabels: xTickLabelsD, xLabelNudge: [-2, -1, -8], xLabelY: 1963,
  xDomain: [1, 3], xRange: [1926, 2265],
  rect: { l: 1919, r: 2406.6, t: 1032.5, b: 1918.4 },
  rowFirst: 1058.7, rowLast: 1892.2, labelFirst: 1063, labelLast: 1878.5, labelRight: 1899.6, labelSize: 30.6,
  gridMajor: "#e6e6e6", gridMinor: "#efefef", rowColor: "#e6e6e6",
  geneMin: 1, geneMax: 20, rMin: 2.5, rMax: 11,
  barMin: 0.083, barMax: 0.25, lowColor: "#102a6e", highColor: "#f0101f", strokeFactor: 0.3, gradient: "grad-d",
  legendGenes: legendGenesD, legendGeneLabels: legendGeneLabelsD, legendRich: legendRichD, legendRichLabels: legendRichLabelsD,
  legend: { titleX: 2433, geneTitleY: 1282, keyX: 2447, keyFirst: 1318, keyLast: 1420, labelX: 2468.6, richTitleY: 1490, barL: 2433, barR: 2460, barT: 1511, barB: 1680, labelX2: 2468.6 }
});

drawVolcano({
  id: "panel-e1", letter: "E", letterX: 30, letterY: 2105,
  up: upE1, down: downE1, unchanged: unchangedE1.concat(unchangedEdgeE1), clouds: [cloudMainE1, cloudLeftE1, cloudRightE1],
  xTicks: xTicksE1, xMinor: xMinorE1, yTicks: yTicksE1, yMinor: yMinorE1,
  xDomain: [0, 4], xRange: [568.8, 802.7], yDomain: [0, 3], yRange: [2719, 2184.4],
  rect: { l: 170, r: 967, t: 2134, b: 2746 }, strip: { t: 2071, b: 2134, cx: 569 },
  yLabelX: 143, yLabelNudge: -60, xLabelNudge: -7.5, xLabelY: 2777,
  xTitle: "Log2(5-HMF/Control)", xTitleX: 571, xTitleY: 2815.6, xTitleSize: 35, xTitleLen: 338,
  yTitle: "-Log10(P-value)", yTitleX: 95, yTitleY: 2426, yTitleSize: 32, yTitleLen: 247,
  legend: { titleX: 991, titleY: 2290, keyX: 1103, keyY: [2379, 2467, 2560], textX: 1138.5, textY: [2381, 2469, 2560] }
});
drawVolcano({
  id: "panel-e2",
  up: upE2, down: downE2, unchanged: unchangedE2.concat(unchangedEdgeE2), clouds: [cloudMainE2],
  xTicks: xTicksE2, xMinor: xMinorE2, yTicks: yTicksE2, yMinor: yMinorE2,
  xDomain: [0, 3], xRange: [1824.7, 2013], yDomain: [0, 3], yRange: [2711.5, 2191.7],
  rect: { l: 1435, r: 2215, t: 2133, b: 2739 }, strip: { t: 2070, b: 2133, cx: 1825 },
  yLabelX: 1403, yLabelNudge: 2, xLabelNudge: 0, xLabelY: 2777,
  xTitle: "Log2(Isoverbascoside/Control)", xTitleX: 1872, xTitleY: 2823, xTitleSize: 35, xTitleLen: 463,
  yTitle: "-Log10(P-value)", yTitleX: 1366, yTitleY: 2438, yTitleSize: 32, yTitleLen: 247,
  legend: { titleX: 2233.6, titleY: 2304, keyX: 2350, keyY: [2379, 2467, 2560], textX: 2382, textY: [2396, 2484.5, 2574.5] }
});
drawVolcano({
  id: "panel-f1", letter: "F", letterX: 31, letterY: 2899,
  up: upF1, down: downF1, unchanged: unchangedF1.concat(unchangedEdgeF1), clouds: [cloudMainF1, cloudLeftF1, cloudRightF1],
  xTicks: xTicksF1, xMinor: xMinorF1, yTicks: yTicksF1, yMinor: yMinorF1,
  xDomain: [0, 4], xRange: [570.5, 939.5], yDomain: [0, 4], yRange: [3523.2, 2962.2],
  rect: { l: 174, r: 965, t: 2944, b: 3550.5 }, strip: { t: 2881, b: 2944, cx: 570.5 },
  yLabelX: 137, yLabelNudge: 3, xLabelNudge: 0, xLabelY: 3590,
  xTitle: "Log2(5-HMF/Control)", xTitleX: 552, xTitleY: 3618, xTitleSize: 23, xTitleLen: 338,
  yTitle: "-Log10(P-value)", yTitleX: 98, yTitleY: 3246, yTitleSize: 32, yTitleLen: 248,
  legend: { titleX: 1008, titleY: 3116, keyX: 1103, keyY: [3196, 3284, 3377.5], textX: 1157, textY: [3208, 3297, 3387] }
});
drawVolcano({
  id: "panel-f2",
  up: upF2, down: downF2, unchanged: unchangedF2.concat(unchangedEdgeF2), clouds: [cloudMainF2, cloudLeftF2, cloudRightF2],
  xTicks: xTicksF2, xMinor: xMinorF2, yTicks: yTicksF2, yMinor: yMinorF2,
  xDomain: [0, 3], xRange: [1824.7, 2032], yDomain: [0, 3], yRange: [3515.4, 3042.5],
  rect: { l: 1429.6, r: 2219, t: 2936.5, b: 3543 }, strip: { t: 2874, b: 2936.5, cx: 1825 },
  yLabelX: 1401, yLabelNudge: 2, yLabelGrey: true, xLabelNudge: -3, xLabelY: 3581,
  xTitle: "Log2(Isoverbascoside/Control)", xTitleX: 1847, xTitleY: 3620, xTitleSize: 23, xTitleLen: 462,
  yTitle: "-log10(p-value)", yTitleX: 1370, yTitleY: 3240, yTitleSize: 26, yTitleLen: 189, yTitleSans: true,
  legend: { titleX: 2233.6, titleY: 3086, keyX: 2350, keyY: [3168, 3255.5, 3349], textX: 2382, textY: [3177, 3266, 3357] }
});
</script>
</body>
</html>
